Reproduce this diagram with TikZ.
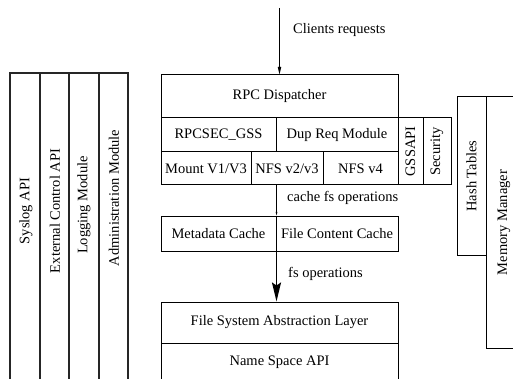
\documentclass[tikz,border=0pt]{standalone}
\usepackage{fontspec}
\setmainfont{Liberation Serif}
\usetikzlibrary{arrows.meta}

\begin{document}
\begin{tikzpicture}[x=1pt, y=-1pt,
  txt/.style={font=\fontsize{14.5}{17}\selectfont, inner sep=0pt},
  box/.style={txt, draw, line width=1pt},
  vbox/.style={box, rotate=90},
  col/.style={line width=1.6pt, black!85},
  lbl/.style={txt, anchor=west}]
\useasboundingbox (0,0) rectangle (513,379);
\clip (0,0) rectangle (513,379);

% Left: service modules, running off the bottom
\draw[col] (10,73) rectangle (128,400);
\foreach \x in {40,69,99} \draw[col] (\x,73) -- (\x,400);
\node[txt, rotate=90] (syslog) at (26,211) {Syslog API};
\node[txt, rotate=90] (extctl) at (55,211) {External Control API};
\node[txt, rotate=90] (logmod) at (84,205) {Logging Module};
\node[txt, rotate=90] (admin)  at (114,198) {Administration Module};

% Middle: request path
\node[box, minimum width=237, minimum height=43] (rpc) at (279.5,96.5) {RPC Dispatcher};
\node[box, minimum width=115, minimum height=34] (rpcsec) at (218.5,135) {RPCSEC\_GSS};
\node[box, minimum width=122, minimum height=34] (dupreq) at (337,135) {Dup Req Module};
\node[box, minimum width=90, minimum height=33] (mount) at (206,168.5) {Mount V1/V3};
\node[box, minimum width=72, minimum height=33] (nfsv3) at (287,168.5) {NFS v2/v3};
\node[box, minimum width=75, minimum height=33] (nfsv4) at (360.5,168.5) {NFS v4};
\node[vbox, minimum width=67, minimum height=25] (gssapi) at (410.5,151.5) {GSSAPI};
\node[vbox, minimum width=67, minimum height=28] (security) at (437,151.5) {Security};

\node[box, minimum width=115, minimum height=35] (meta) at (218.5,233.5) {Metadata Cache};
\node[box, minimum width=122, minimum height=35] (fcc) at (337,233.5) {File Content Cache};

\node[box, minimum width=237, minimum height=41] (fsal) at (279.5,322.5) {File System Abstraction Layer};
\node[box, minimum width=237, minimum height=38] (nsapi) at (279.5,362) {Name Space API};

% Right: shared services
\node[vbox, minimum width=158, minimum height=29] (hash) at (471.5,176) {Hash Tables};
\node[vbox, minimum width=251, minimum height=36] (memmgr) at (504,222.5) {Memory Manager};

% Arrows and their labels
\coordinate (src) at (279.5,8);
\draw[line width=1.2pt, -{Stealth[length=19pt, width=9pt, inset=13pt]}] (src) -- (rpc.north);
\node[lbl] (reqlbl) at (293,30) {Clients requests};

\draw[line width=1pt, -{Stealth[length=12pt, width=6pt, inset=8pt]}] (mount.south -| rpcsec.east) -- (meta.north east);
\node[lbl] (cachelbl) at (287,198) {cache fs operations};

\draw[line width=1.6pt, -{Stealth[length=19pt, width=9pt, inset=3pt]}] (meta.south east) -- (fsal.north -| meta.east);
\node[lbl] (fslbl) at (288,274) {fs operations};
\end{tikzpicture}
\end{document}
